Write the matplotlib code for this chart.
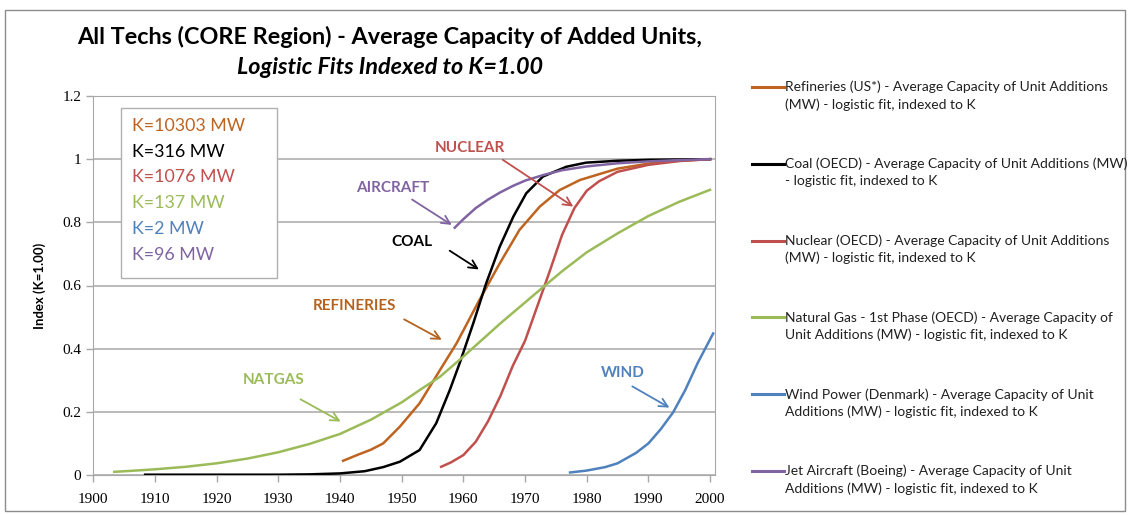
#Logistic fits of average unit capacity for several technologies, indexed to K=1
import numpy as np
import matplotlib.pyplot as plt
from matplotlib.lines import Line2D
from matplotlib.patches import Rectangle

#series (year, index value)
refinery_years = [1940.5, 1943, 1945, 1947, 1949.7, 1952.9, 1956.2, 1958.9, 1962.6, 1965.9, 1969.1, 1972.4, 1975.6, 1978.9, 1982.1, 1985, 1990, 1995, 2000]
refinery_vals = [0.045, 0.065, 0.08, 0.1, 0.153, 0.227, 0.332, 0.417, 0.554, 0.67, 0.776, 0.85, 0.902, 0.934, 0.953, 0.97, 0.986, 0.995, 1.0]

coal_years = [1908.4, 1920, 1930, 1935, 1940, 1944, 1947, 1949.7, 1952.9, 1955.6, 1957.8, 1959.4, 1961.6, 1963.7, 1965.9, 1968.1, 1970.2, 1972.9, 1976.7, 1979.9, 1985, 1990, 2000]
coal_vals = [0.001, 0.001, 0.001, 0.002, 0.005, 0.012, 0.025, 0.042, 0.079, 0.164, 0.269, 0.354, 0.48, 0.607, 0.723, 0.818, 0.892, 0.945, 0.976, 0.989, 0.995, 0.998, 1.0]

nuclear_years = [1956.4, 1958, 1960, 1962, 1964, 1966, 1968, 1970, 1972, 1974, 1976, 1978, 1980, 1982, 1985, 1990, 1995, 2000]
nuclear_vals = [0.026, 0.04, 0.063, 0.105, 0.17, 0.25, 0.345, 0.425, 0.535, 0.645, 0.76, 0.845, 0.9, 0.93, 0.96, 0.982, 0.994, 1.0]

natgas_years = [1903.4, 1906, 1910, 1915, 1920, 1925, 1930, 1935, 1940, 1945, 1950, 1953, 1956.2, 1960, 1966, 1973, 1976, 1980, 1985, 1990, 1995, 2000]
natgas_vals = [0.010, 0.013, 0.018, 0.026, 0.037, 0.052, 0.072, 0.098, 0.13, 0.175, 0.23, 0.27, 0.311, 0.375, 0.48, 0.596, 0.645, 0.705, 0.765, 0.82, 0.865, 0.903]

wind_years = [1977.3, 1980, 1983, 1985, 1988, 1990, 1992, 1994, 1996, 1998, 2000.5]
wind_vals = [0.008, 0.014, 0.025, 0.037, 0.07, 0.10, 0.145, 0.198, 0.27, 0.355, 0.448]

aircraft_years = [1958.6, 1960, 1962, 1964, 1966, 1968, 1970, 1973, 1976, 1980, 1985, 1990, 1995, 2000]
aircraft_vals = [0.783, 0.81, 0.845, 0.872, 0.895, 0.915, 0.932, 0.95, 0.965, 0.977, 0.987, 0.993, 0.997, 1.0]

names = ['Refineries (US*) - Average Capacity of Unit Additions\n(MW) - logistic fit, indexed to K',
         'Coal (OECD) - Average Capacity of Unit Additions (MW)\n- logistic fit, indexed to K',
         'Nuclear (OECD) - Average Capacity of Unit Additions\n(MW) - logistic fit, indexed to K',
         'Natural Gas - 1st Phase (OECD) - Average Capacity of\nUnit Additions (MW) - logistic fit, indexed to K',
         'Wind Power (Denmark) - Average Capacity of Unit\nAdditions (MW) - logistic fit, indexed to K',
         'Jet Aircraft (Boeing) - Average Capacity of Unit\nAdditions (MW) - logistic fit, indexed to K']
k_labels = ['K=10303 MW', 'K=316 MW', 'K=1076 MW', 'K=137 MW', 'K=2 MW', 'K=96 MW']
colors = ['#BE6420', '#000000', '#C0504D', '#9BBB59', '#4F81BD', '#8064A2']

series = [(refinery_years, refinery_vals), (coal_years, coal_vals), (nuclear_years, nuclear_vals),
          (natgas_years, natgas_vals), (wind_years, wind_vals), (aircraft_years, aircraft_vals)]

W, H = 1128, 515
fig = plt.figure(figsize=(W/100, H/100), dpi=100)
ax = fig.add_axes([93.3/W, 1-475/H, (715-93.3)/W, (475-96)/H])

for (xs, ys), c in zip(series, colors):
    ax.plot(xs, ys, color=c, lw=1.8, zorder=3, solid_joinstyle='round')

ax.set_xlim(1900, 2000.8)
ax.set_ylim(0, 1.2)
ax.set_xticks(np.arange(1900, 2001, 10))
ax.set_yticks([0, 0.2, 0.4, 0.6, 0.8, 1, 1.2])
ax.set_yticklabels(['0', '0.2', '0.4', '0.6', '0.8', '1', '1.2'])
ax.grid(axis='y', color='#A8A8A8', lw=1.1)
for s in ax.spines.values():
    s.set_color('#A8A8A8')
ax.tick_params(colors='#A8A8A8', length=5, width=1, labelcolor='black', labelsize=11)
for lab in ax.get_xticklabels() + ax.get_yticklabels():
    lab.set_family('Liberation Serif')
ax.tick_params(axis='x', pad=8)
ax.set_ylabel('Index (K=1.00)', fontsize=9.5, fontweight='bold', family='Lato', labelpad=12)

#arrow labels
lab_font = dict(fontsize=11, fontweight='bold', family='Lato', ha='center', va='center')
arrows = [('NUCLEAR', (1961.1, 1.035), (1966.0, 1.003), (1978.2, 0.845), colors[2]),
          ('AIRCRAFT', (1948.6, 0.908), (1951.3, 0.877), (1958.5, 0.787), colors[5]),
          ('COAL', (1951.7, 0.737), (1957.4, 0.715), (1962.9, 0.646), 'black'),
          ('REFINERIES', (1942.4, 0.535), (1950.0, 0.497), (1956.9, 0.424), '#B5621F'),
          ('NATGAS', (1929.2, 0.30), (1933.2, 0.244), (1940.5, 0.165), colors[3]),
          ('WIND', (1985.8, 0.323), (1987.0, 0.285), (1993.8, 0.209), colors[4])]
for txt, tpos, a0, a1, c in arrows:
    ax.text(tpos[0], tpos[1], txt, color=c, **lab_font)
    ax.annotate('', xy=a1, xytext=a0,
                arrowprops=dict(arrowstyle='->,head_length=0.6,head_width=0.3', color=c, lw=1.3))

#K value box
fig.add_artist(Rectangle((120.7/W, 1-277.7/H), (277-120.7)/W, (277.7-107.7)/H,
                         transform=fig.transFigure, facecolor='white', edgecolor='#B0B0B0', lw=1))
for i, (k, c) in enumerate(zip(k_labels, colors)):
    fig.text(132/W, 1-(126+i*25.7)/H, k, color=c, fontsize=12.8, family='Lato', va='center')

#legend on the right
for i, (nm, c) in enumerate(zip(names, colors)):
    y = 86.7 + i*76.9
    fig.add_artist(Line2D([752/W, 784/W], [1-y/H, 1-y/H], color=c, lw=2.2, transform=fig.transFigure))
    l1, l2 = nm.split('\n')
    fig.text(785/W, 1-y/H, l1, fontsize=10, family='Lato', va='center', color='#202020')
    fig.text(785/W, 1-(y+17.7)/H, l2, fontsize=10, family='Lato', va='center', color='#202020')

#title
fig.text(390/W, 1-37/H, 'All Techs (CORE Region) - Average Capacity of Added Units,',
         fontsize=16.8, fontweight='bold', family='Lato', ha='center', va='center')
fig.text(390/W, 1-67/H, 'Logistic Fits Indexed to K=1.00',
         fontsize=16.8, fontweight='bold', style='italic', family='Lato', ha='center', va='center')

#chart border
fig.add_artist(Rectangle((5/W, 1-511/H), 1120/W, 501/H, transform=fig.transFigure,
                         facecolor='none', edgecolor='#8C8C8C', lw=1))

fig.savefig('out.png', dpi=100)
